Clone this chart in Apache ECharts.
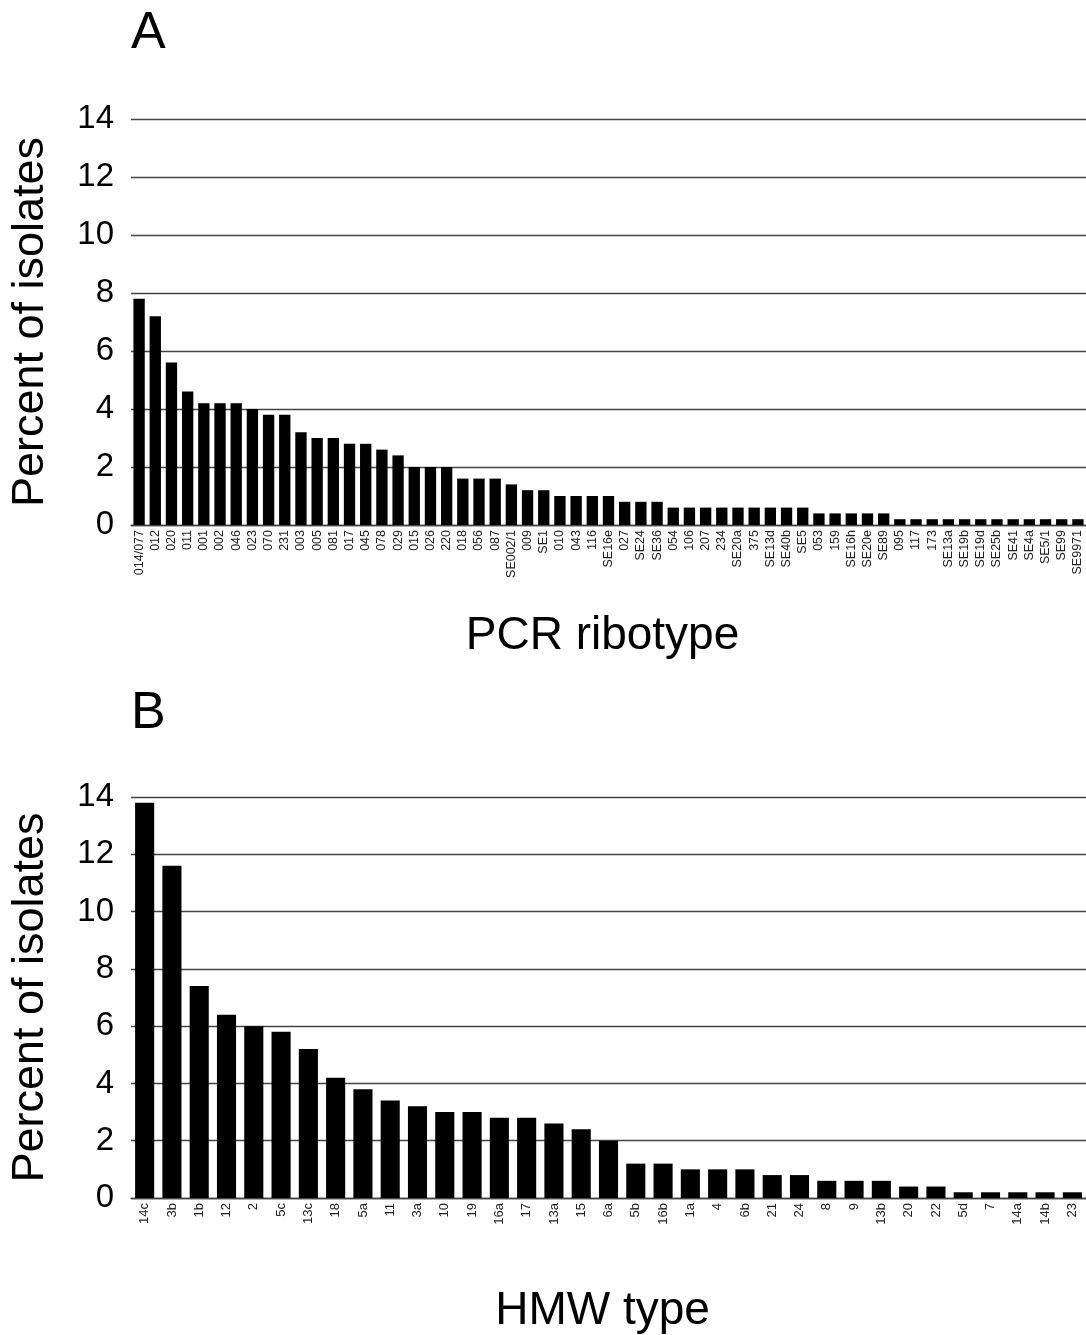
<!DOCTYPE html>
<html>
<head>
    <meta charset="UTF-8">
    <title></title>
    <script src="https://cdn.jsdelivr.net/npm/echarts@6/dist/echarts.min.js"></script>
    <style>
        body { margin: 0; background: #fff; }
    </style>
</head>
<body>
<div id="container" style="height:1335px;width:1086px;"></div>
<script>
    // panel A: PCR ribotype
    var ribotypes = ['014/077', '012', '020', '011', '001', '002', '046', '023', '070', '231',
        '003', '005', '081', '017', '045', '078', '029', '015', '026', '220',
        '018', '056', '087', 'SE002/1', '009', 'SE1', '010', '043', '116', 'SE16e',
        '027', 'SE24', 'SE36', '054', '106', '207', '234', 'SE20a', '375', 'SE13d',
        'SE40b', 'SE5', '053', '159', 'SE16h', 'SE20e', 'SE89', '095', '117', '173',
        'SE13a', 'SE19b', 'SE19d', 'SE25b', 'SE41', 'SE4a', 'SE5/1', 'SE99', 'SE9971'];
    var ribotypeValues = [7.8, 7.2, 5.6, 4.6, 4.2, 4.2, 4.2, 4.0, 3.8, 3.8,
        3.2, 3.0, 3.0, 2.8, 2.8, 2.6, 2.4, 2.0, 2.0, 2.0,
        1.6, 1.6, 1.6, 1.4, 1.2, 1.2, 1.0, 1.0, 1.0, 1.0,
        0.8, 0.8, 0.8, 0.6, 0.6, 0.6, 0.6, 0.6, 0.6, 0.6,
        0.6, 0.6, 0.4, 0.4, 0.4, 0.4, 0.4, 0.2, 0.2, 0.2,
        0.2, 0.2, 0.2, 0.2, 0.2, 0.2, 0.2, 0.2, 0.2];

    // panel B: HMW type
    var hmwTypes = ['14c', '3b', '1b', '12', '2', '5c', '13c', '18', '5a', '11',
        '3a', '10', '19', '16a', '17', '13a', '15', '6a', '5b', '16b',
        '1a', '4', '6b', '21', '24', '8', '9', '13b', '20', '22',
        '5d', '7', '14a', '14b', '23'];
    var hmwValues = [13.8, 11.6, 7.4, 6.4, 6.0, 5.8, 5.2, 4.2, 3.8, 3.4,
        3.2, 3.0, 3.0, 2.8, 2.8, 2.6, 2.4, 2.0, 1.2, 1.2,
        1.0, 1.0, 1.0, 0.8, 0.8, 0.6, 0.6, 0.6, 0.4, 0.4,
        0.2, 0.2, 0.2, 0.2, 0.2];

    var yTicks = {min: 0, max: 14, interval: 2};
    var font = 'Liberation Sans, Arial, sans-serif';

    var myChart = echarts.init(document.getElementById('container'));

    function yAxis(idx) {
        return {
            type: 'value',
            gridIndex: idx,
            min: yTicks.min,
            max: yTicks.max,
            interval: yTicks.interval,
            name: 'Percent of isolates',
            nameLocation: 'middle',
            nameGap: 78,
            nameTextStyle: {fontSize: 45, color: '#000', fontFamily: font},
            axisLine: {show: false},
            axisTick: {show: false},
            axisLabel: {fontSize: 33, color: '#000', fontFamily: font, margin: 17},
            splitLine: {lineStyle: {color: '#444', width: 1.3}}
        };
    }

    function xAxis(idx, cats, name, fs) {
        return {
            type: 'category',
            gridIndex: idx,
            data: cats,
            name: name,
            nameLocation: 'middle',
            nameGap: idx === 0 ? 88 : 90,
            nameTextStyle: {fontSize: 46, color: '#000', fontFamily: font, padding: [0, 12, 0, 0]},
            axisLine: {lineStyle: {color: '#444', width: 1.3}},
            axisTick: {show: false},
            axisLabel: {rotate: 90, interval: 0, fontSize: fs, color: '#222', fontFamily: font, margin: 5}
        };
    }

    var option = {
        animation: false,
        backgroundColor: '#fff',
        title: [
            {text: 'A', left: 126, top: 3, textStyle: {fontSize: 52, fontWeight: 'normal', color: '#000', fontFamily: font}},
            {text: 'B', left: 126, top: 683, textStyle: {fontSize: 52, fontWeight: 'normal', color: '#000', fontFamily: font}}
        ],
        grid: [
            {left: 128, width: 962, top: 119, height: 406},
            {left: 128, width: 962, top: 797, height: 406}
        ],
        xAxis: [
            xAxis(0, ribotypes, 'PCR ribotype', 12.5),
            xAxis(1, hmwTypes, 'HMW type', 13)
        ],
        yAxis: [yAxis(0), yAxis(1)],
        series: [
            {
                type: 'bar', xAxisIndex: 0, yAxisIndex: 0,
                data: ribotypeValues,
                barCategoryGap: '30%',
                itemStyle: {color: '#000'}
            },
            {
                type: 'bar', xAxisIndex: 1, yAxisIndex: 1,
                data: hmwValues,
                barCategoryGap: '30%',
                itemStyle: {color: '#000'}
            }
        ]
    };

    myChart.setOption(option);
</script>
</body>
</html>
